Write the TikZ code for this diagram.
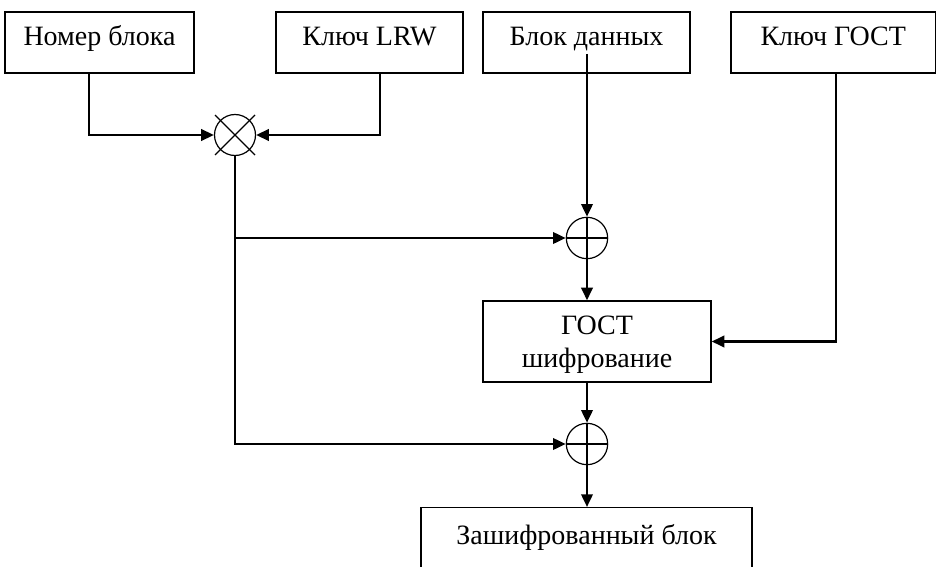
\documentclass[tikz,border=0pt]{standalone}
\usepackage{fontspec}
\setmainfont{Liberation Serif}
\usetikzlibrary{arrows.meta}
\begin{document}
\begin{tikzpicture}[x=0.75pt,y=-0.75pt,
  txt/.style={font=\fontsize{21}{24.75}\selectfont},
  box/.style={draw, line width=1pt, inner sep=0pt, txt, align=center},
  conn/.style={line width=1.9pt, -{Triangle[length=9.5pt,width=8.5pt]}},
  wire/.style={line width=1.9pt},
  opc/.style={circle, draw, line width=0.9pt, minimum size=31pt, inner sep=0pt},
  thinl/.style={line width=0.9pt}]
\useasboundingbox (0,0) rectangle (936,567);
\clip (0,0) rectangle (936,567);
% top boxes
\tikzset{topbox/.style={box, minimum height=45.75pt, text height=15pt, text depth=9.8pt}}
\node[topbox, minimum width=141.75pt] (nb) at (99.5,42.5) {Номер блока};
\node[topbox, minimum width=140.25pt] (lrw) at (369.5,42.5) {Ключ LRW};
\node[topbox, minimum width=155.25pt] (data) at (586.5,42.5) {Блок данных};
\node[topbox, minimum width=153.4pt] (gk) at (833.25,42.5) {Ключ ГОСТ};
% operators
\node[opc, minimum size=30.75pt] (mul) at (235,135) {};
\node[opc] (x1) at (587,238) {};
\node[opc] (x2) at (587,444) {};
\draw[thinl] (mul.center) ++(-20,-20) -- ++(40,40);
\draw[thinl] (mul.center) ++(20,-20) -- ++(-40,40);
\draw[thinl] (x1.north) -- (x1.south) (x1.west) -- (x1.east);
\draw[thinl] (x2.north) -- (x2.south) (x2.west) -- (x2.east);
% GOST box
\node[box, minimum width=171pt, minimum height=60.75pt, text depth=0.25pt] (enc) at (597,341.5) {ГОСТ\\шифрование};
% output box (cut off by page bottom)
\node[draw, line width=1pt, minimum width=248.25pt, minimum height=90pt, anchor=north, inner sep=0pt] (out) at (586.5,507) {};
\node[txt, inner sep=0pt, anchor=base] (outt) at (586.5,544) {Зашифрованный блок};
% connectors
\coordinate (din) at (587,54);
\coordinate (br) at (235,238);
\draw[conn] (nb.south -| 89,0) |- (mul.west);
\draw[conn] (lrw.south -| 380,0) |- (mul.east);
\draw[wire] (mul.south) -- (br);
\draw[conn] (br) |- (x2.west);
\draw[conn] (br) -- (x1.west);
\draw[conn] (din) -- (x1.north);
\draw[conn] (x1.south) -- (x1 |- enc.north);
\draw[conn] (gk.south -| 836,0) |- (enc.east);
\draw[conn] (x1 |- enc.south) -- (x2.north);
\draw[conn] (x2.south) -- (x2 |- out.north);
\end{tikzpicture}
\end{document}
